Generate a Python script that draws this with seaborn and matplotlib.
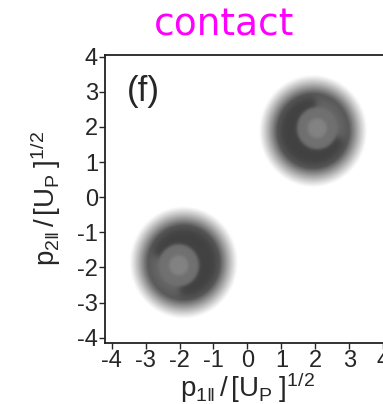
import numpy as np
import matplotlib
matplotlib.use("Agg")
import matplotlib.pyplot as plt
import seaborn as sns

# blob data (momentum units of sqrt(Up))
dot_x = [2.06, -2.03]          # centre of the bright core
dot_y = [1.95, -1.95]
shell_dx = [-0.12, 0.15]        # offset of the dark shell / halo from the core
shell_dy = [-0.08, 0.08]
band_from = [95, -85]           # angular span (deg) of the dark C-shaped band
band_to = [335, 155]

# radii of the layers and their grey levels (0-255)
# core dot, inner ring, gap region, C band, outer shell, halo edge
layer_r = [0.28, 0.6, 0.82, 0.95, 1.05, 1.6]
layer_grey = [130, 112, 102, 66, 86, 255]

xticks = [-4, -3, -2, -1, 0, 1, 2, 3, 4]
yticks = [-4, -3, -2, -1, 0, 1, 2, 3, 4]
xlim = (-4.2, 4.2)
ylim = (-4.15, 4.05)

sns.set_style("ticks")
plt.rcParams['font.family'] = ['Liberation Sans', 'DejaVu Sans']
plt.rcParams['mathtext.fontset'] = 'custom'
plt.rcParams['mathtext.rm'] = 'Liberation Sans'
plt.rcParams['mathtext.it'] = 'Liberation Sans'
plt.rcParams['axes.unicode_minus'] = False


def step(r, r0, w=0.04):
    return 1.0 / (1.0 + np.exp((r - r0) / w))


gx = np.linspace(xlim[0], xlim[1], 500)
gy = np.linspace(ylim[0], ylim[1], 500)
X, Y = np.meshgrid(gx, gy)
grey = np.full(X.shape, 255.0)

for i in range(len(dot_x)):
    # halo and outer shell around the shifted centre
    rs = np.hypot(X - dot_x[i] - shell_dx[i], Y - dot_y[i] - shell_dy[i])
    t = np.clip((layer_r[5] - rs) / (layer_r[5] - layer_r[4]), 0, 1) ** 1.1
    g = 255 - (255 - layer_grey[4]) * t
    # core layers around the bright dot
    r = np.hypot(X - dot_x[i], Y - dot_y[i])
    ang = np.degrees(np.arctan2(Y - dot_y[i], X - dot_x[i]))
    a0, a1 = band_from[i], band_to[i]
    rel = (ang - a0 + 30) % 360 - 30
    span = (a1 - a0) % 360
    inband = step(rel, span, 5) * (1 - step(rel, 0, 5))
    # slightly lighter zone just outside the inner ring where the C is open
    gap = (1 - inband) * step(r, layer_r[2], 0.08)
    g = g + (layer_grey[2] - g) * gap
    band = inband * step(rs, layer_r[3], 0.05)
    g = g + (layer_grey[3] - g) * band
    g = g + (layer_grey[1] - g) * step(r, layer_r[1], 0.025)
    g = g + (layer_grey[0] - g) * step(r, layer_r[0], 0.025)
    grey = np.minimum(grey, g)

fig = plt.figure(figsize=(3.83, 4.04), dpi=100)
ax = fig.add_axes([0.274, 0.151, 0.744, 0.713])
ax.imshow(grey, cmap='gray', vmin=0, vmax=255, origin='lower',
          extent=[xlim[0], xlim[1], ylim[0], ylim[1]], aspect='auto',
          interpolation='bilinear')
ax.set_xlim(*xlim)
ax.set_ylim(*ylim)
ax.set_xticks(xticks)
ax.set_yticks(yticks)
for s in ax.spines.values():
    s.set_linewidth(1.3)
    s.set_color('#222222')
ax.tick_params(direction='out', length=4, width=1, labelsize=17, pad=1)

ax.set_xlabel(r'$\mathregular{p_{1\Vert}\,/\,[U_P\;]^{1/2}}$', fontsize=20, labelpad=-1)
ax.set_ylabel(r'$\mathregular{p_{2\Vert}\,/\,[U_P\;]^{1/2}}$', fontsize=20, labelpad=10)
ax.text(-3.55, 3.0, '(f)', fontsize=25, va='center', ha='left')

fig.text(224 / 383, 1 - 36 / 404, 'contact', color='#ff00ff', fontsize=27,
         family='DejaVu Sans', ha='center', va='baseline')

fig.savefig('out.png', dpi=100)
